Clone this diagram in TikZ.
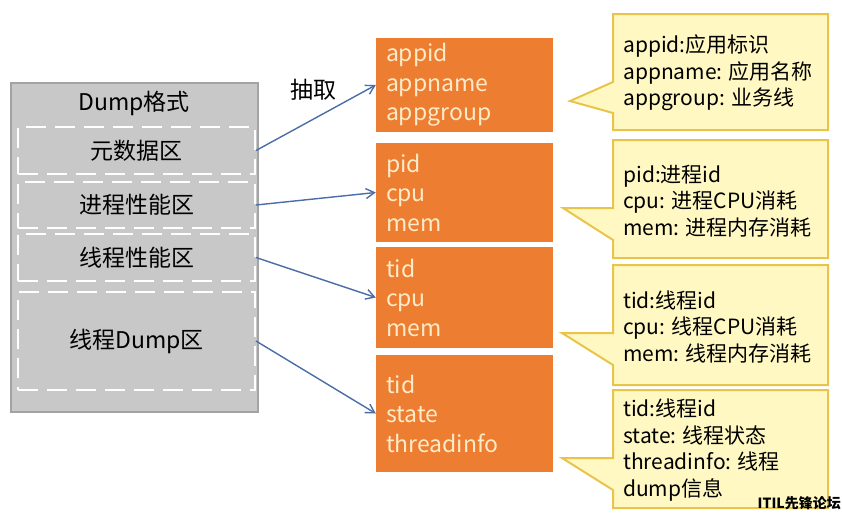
\documentclass[tikz,border=0pt]{standalone}
\usepackage{fontspec}
\setmainfont{Noto Sans CJK SC}
\usepackage{tikz}
\usetikzlibrary{arrows.meta, positioning}
\definecolor{zoneGray}{HTML}{C8C8C8}
\definecolor{zoneEdge}{HTML}{A3A3A3}
\definecolor{fieldOrange}{HTML}{ED7D31}
\definecolor{fieldText}{HTML}{FFEBC8}
\definecolor{noteFill}{HTML}{FFF8C2}
\definecolor{noteEdge}{HTML}{E8C54A}
\definecolor{linkBlue}{HTML}{4A6DA8}
\newcommand{\linkArrow}{{Straight Barb[length=3mm, width=3.5mm]}}

\begin{document}
\begin{tikzpicture}[x=1pt, y=-1pt, font=\fontsize{23}{29.5}\selectfont,
	zone/.style={draw=white, dash pattern=on 20pt off 9pt, line width=2pt, minimum width=237pt, inner sep=0pt},
	field/.style={fill=fieldOrange, text=fieldText, align=left, text width=157pt, inner xsep=10pt, inner ysep=0pt, minimum width=177pt},
	note/.style={fill=noteFill, draw=noteEdge, line width=2pt, line join=miter},
	notetext/.style={font=\fontsize{21}{26.5}\selectfont, align=left, inner sep=0pt, anchor=west},
	link/.style={draw=linkBlue, line width=1.4pt, -\linkArrow}]
	\useasboundingbox (0,0) rectangle (842,515);
	\def\NL{613}
	\def\NR{828}
	
	\node[fill=zoneGray, draw=zoneEdge, line width=1.5pt, minimum width=247pt, minimum height=329pt, inner sep=0pt] (dump) at (134.5,247.5) {};
	\node (dumptitle) at (134,103) {Dump格式};
	\node[zone, minimum height=47pt] (meta) at (136.5,150.5) {元数据区};
	\node[zone, minimum height=46pt] (procperf) at (136.5,205) {进程性能区};
	\node[zone, minimum height=47pt] (thrperf) at (136.5,257.5) {线程性能区};
	\node[zone, minimum height=98pt] (thrdump) at (136.5,341) {线程Dump区};
	
	\node[field, minimum height=94pt] (appinfo) at (464.5,85) {appid\\appname\\appgroup};
	\node[field, minimum height=99pt] (procinfo) at (464.5,192.5) {pid\\cpu\\mem};
	\node[field, minimum height=101pt] (thrinfo) at (464.5,297.5) {tid\\cpu\\mem};
	\node[field, minimum height=117pt] (stackinfo) at (464.5,413.5) {tid\\state\\threadinfo};
	
	\draw[link] (meta.east) -- (appinfo.west);
	\draw[link] (procperf.east) -- (procinfo.west);
	\draw[link] (thrperf.east) -- (thrinfo.west);
	\draw[link] (thrdump.east) -- (stackinfo.west);
	\node (extract) at (313,90) {抽取};
	
	\foreach \top/\bot/\tx/\ty/\ba/\bb in {14/130/570/101/82/113, 140/258/563/208/208/240, 265/385/562/333/333/365, 390/508/562/458/458/490} {
		\draw[note] (\NL,\top) -- (\NR,\top) -- (\NR,\bot) -- (\NL,\bot) -- (\NL,\bb) -- (\tx,\ty) -- (\NL,\ba) -- cycle;
	}
	
	\node[notetext] (appnote) at (623,73) {appid:应用标识\\appname: 应用名称\\appgroup: 业务线};
	\node[notetext] (procnote) at (623,201) {pid:进程id\\cpu: 进程CPU消耗\\mem: 进程内存消耗};
	\node[notetext] (thrnote) at (623,327) {tid:线程id\\cpu: 线程CPU消耗\\mem: 线程内存消耗};
	\node[notetext] (stacknote) at (623,450) {tid:线程id\\state: 线程状态\\threadinfo: 线程\\dump信息};
	
	\node[font=\fontsize{14}{16}\bfseries, anchor=east, inner sep=0pt] (mark) at (841,503) {ITIL先锋论坛};
\end{tikzpicture}
\end{document}
